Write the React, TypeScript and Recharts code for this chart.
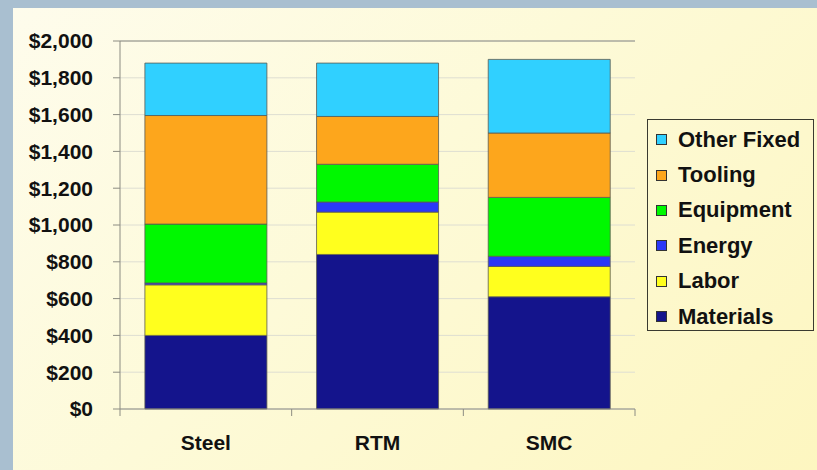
import React from 'react';
import { BarChart, Bar, XAxis, YAxis, CartesianGrid, ReferenceLine } from 'recharts';

// Cost breakdown per part ($), stacked bottom to top
const categories = ['Steel', 'RTM', 'SMC'];
const materials = [400, 840, 610];
const labor = [275, 230, 165];
const energy = [10, 55, 55];
const equipment = [320, 205, 320];
const tooling = [590, 260, 350];
const otherFixed = [285, 290, 400];
const yTicks = [0, 200, 400, 600, 800, 1000, 1200, 1400, 1600, 1800, 2000];

const series = [
  { key: 'materials', name: 'Materials', values: materials, color: '#14148c' },
  { key: 'labor', name: 'Labor', values: labor, color: '#ffff1e' },
  { key: 'energy', name: 'Energy', values: energy, color: '#2b38f8' },
  { key: 'equipment', name: 'Equipment', values: equipment, color: '#00f800' },
  { key: 'tooling', name: 'Tooling', values: tooling, color: '#fda61c' },
  { key: 'otherFixed', name: 'Other Fixed', values: otherFixed, color: '#30d0ff' },
];

const data = categories.map((name, i) => {
  const row: Record<string, string | number> = { name };
  series.forEach((s) => {
    row[s.key] = s.values[i];
  });
  return row;
});

const W = 817;
const H = 470;
const margin = { top: 41, right: 182, bottom: 21, left: 20 };
const Y_AXIS_W = 100;
const X_AXIS_H = 40;
const PLOT_W = W - margin.left - margin.right - Y_AXIS_W;
const TICK_SIZE = 7;
const TICK_MARGIN = 19;
const FONT = '"Liberation Sans", Arial, Helvetica, sans-serif';
const AXIS_COLOR = '#8c8c82';

const fmt = (v: number) => '$' + v.toLocaleString('en-US');

// Category label plus Excel-style tick marks on the category boundaries
const CategoryTick = (props: any) => {
  const { x, y, payload, index } = props;
  const band = PLOT_W / categories.length;
  const y0 = y - TICK_MARGIN - TICK_SIZE;
  const last = index === categories.length - 1;
  return (
    <g>
      <line x1={x - band / 2} x2={x - band / 2} y1={y0} y2={y0 + TICK_SIZE} stroke={AXIS_COLOR} />
      {last && <line x1={x + band / 2} x2={x + band / 2} y1={y0} y2={y0 + TICK_SIZE} stroke={AXIS_COLOR} />}
      <text x={x} y={y + 15} textAnchor="middle" fontFamily={FONT} fontWeight={700} fontSize={21} fill="#111">
        {payload.value}
      </text>
    </g>
  );
};

const LegendBox = () => (
  <div
    style={{
      position: 'absolute',
      left: 647,
      top: 119,
      width: 165,
      height: 208,
      border: '1.5px solid #3a3a30',
      boxSizing: 'content-box',
      paddingTop: 2,
      fontFamily: FONT,
      fontWeight: 700,
      fontSize: 22,
      color: '#111',
    }}
  >
    {[...series].reverse().map((s) => (
      <div key={s.key} style={{ display: 'flex', alignItems: 'center', height: 35.4, whiteSpace: 'nowrap' }}>
        <span
          style={{
            display: 'inline-block',
            width: 9,
            height: 9,
            marginLeft: 8,
            marginRight: 11,
            background: s.color,
            border: '1px solid #333',
          }}
        />
        <span>{s.name}</span>
      </div>
    ))}
  </div>
);

export default function App() {
  return (
    <div style={{ position: 'absolute', left: 0, top: 0, width: W, height: H, background: '#a9bfd0', overflow: 'hidden' }}>
      <div
        style={{
          position: 'absolute',
          left: 13,
          top: 8,
          right: 0,
          bottom: 0,
          background: 'linear-gradient(135deg, #fefcec 0%, #fdfad8 45%, #fdf6c0 100%)',
        }}
      />
      <div style={{ position: 'absolute', left: 0, top: 0 }}>
        <BarChart width={W} height={H} data={data} margin={margin} barCategoryGap="14.5%">
          <CartesianGrid vertical={false} stroke="#deded2" yAxisId="left" />
          <XAxis
            dataKey="name"
            height={X_AXIS_H}
            tickSize={TICK_SIZE}
            tickMargin={TICK_MARGIN}
            tickLine={false}
            axisLine={{ stroke: AXIS_COLOR }}
            tick={<CategoryTick />}
            interval={0}
          />
          <YAxis
            yAxisId="left"
            width={Y_AXIS_W}
            domain={[0, 2000]}
            ticks={yTicks}
            tickFormatter={fmt}
            tickSize={7}
            tickMargin={20}
            axisLine={{ stroke: AXIS_COLOR }}
            tickLine={{ stroke: AXIS_COLOR }}
            tick={{ fontFamily: FONT, fontWeight: 700, fontSize: 21, fill: '#111' }}
            interval={0}
          />
          <YAxis
            yAxisId="right"
            orientation="right"
            width={0}
            domain={[0, 2000]}
            ticks={yTicks}
            tick={false}
            tickLine={false}
            axisLine={{ stroke: AXIS_COLOR }}
          />
          <ReferenceLine yAxisId="left" y={2000} stroke={AXIS_COLOR} />
          {series.map((s) => (
            <Bar
              key={s.key}
              yAxisId="left"
              dataKey={s.key}
              name={s.name}
              stackId="cost"
              fill={s.color}
              stroke="#5a5a50"
              strokeWidth={0.8}
              isAnimationActive={false}
            />
          ))}
        </BarChart>
      </div>
      <LegendBox />
    </div>
  );
}
